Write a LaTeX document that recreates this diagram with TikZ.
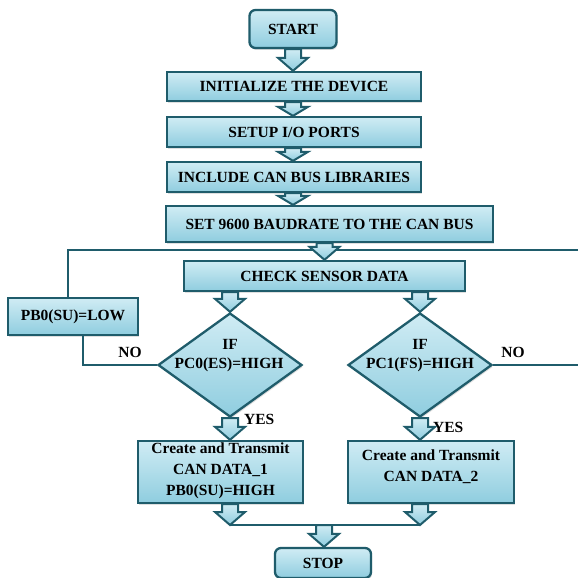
\documentclass[tikz,border=0pt]{standalone}
\usepackage{fontspec}
\setmainfont{Liberation Serif}
\usetikzlibrary{shapes.geometric,calc,shadows}
\definecolor{edgec}{HTML}{1F5C6B}
\definecolor{ftop}{HTML}{D0ECF4}
\definecolor{fbot}{HTML}{8FCDDF}
\tikzset{
  box/.style={draw=edgec, line width=2.3pt, top color=ftop, bottom color=fbot, inner sep=0pt,
    font=\fontsize{15.5}{21}\selectfont\bfseries, align=center,
    drop shadow={shadow xshift=1pt, shadow yshift=-2pt, opacity=0.25, fill=gray}},
  rbox/.style={box, rounded corners=6pt},
  dia/.style={box, shape=diamond},
  lbl/.style={font=\fontsize{15.5}{21}\selectfont\bfseries, inner sep=0pt, align=center},
  conn/.style={draw=edgec, line width=2.3pt},
  barrowst/.style={draw=edgec, line width=2pt, top color=ftop, bottom color=fbot, line join=miter},
}
\newcommand\barrow[3][13pt]{\path[barrowst] let \p1=#2, \p2=#3 in
  (\x1-8pt,\y1) -- (\x1-8pt,\y2+#1) -- (\x1-15pt,\y2+#1) -- (\x1,\y2)
  -- (\x1+15pt,\y2+#1) -- (\x1+8pt,\y2+#1) -- (\x1+8pt,\y1) -- cycle;}
\begin{document}
\begin{tikzpicture}[x=1pt,y=-1pt]
\useasboundingbox[fill=white] (0,0) rectangle (578,578);
% coordinates
\coordinate (join) at (324.5,250);
\coordinate (rt) at (582,365);
\coordinate (m1) at (230,525);
\coordinate (m2) at (420,525);
\coordinate (mc) at (324,525);
% connectors (behind)
\draw[conn] (m1) -- (m2);
% nodes
\node[rbox, minimum width=87, minimum height=38] (start) at (293,29) {START};
\node[box, minimum width=254, minimum height=29] (init) at (294,86.5) {INITIALIZE THE DEVICE};
\node[box, minimum width=254, minimum height=30] (setup) at (294,132) {SETUP I/O PORTS};
\node[box, minimum width=254, minimum height=30] (incl) at (294,177) {INCLUDE CAN BUS LIBRARIES};
\node[box, minimum width=327, minimum height=36] (set) at (329.5,224) {SET 9600 BAUDRATE TO THE CAN BUS};
\node[box, minimum width=281, minimum height=30] (check) at (324.5,276) {CHECK SENSOR DATA};
\node[box, minimum width=130, minimum height=37] (low) at (73,316.5) {PB0(SU)=LOW};
\node[dia, minimum width=144, minimum height=104] (D1) at (230,365) {};
\node[dia, minimum width=144, minimum height=104] (D2) at (420,365) {};
\node[box, minimum width=165, minimum height=62] (b1) at (220.5,472) {};
\node[box, minimum width=166, minimum height=62] (b2) at (431,472) {};
\node[rbox, minimum width=96, minimum height=30] (stop) at (323,563) {STOP};
% loop connectors
\draw[conn] (D1.west) -| ([xshift=10pt]low.south);
\draw[conn] ([xshift=-5pt]low.north) |- (join);
\draw[conn] (D2.east) -- (rt) |- (join);
% texts
\node[lbl] (d1a) at (230,344) {IF};
\node[lbl] (d1b) at (229,365) {PC0(ES)=HIGH};
\node[lbl] (d2a) at (420,344) {IF};
\node[lbl] (d2b) at (420,365) {PC1(FS)=HIGH};
\node[lbl] (b1t) at (220.5,471) {Create and Transmit\\CAN DATA\_1\\PB0(SU)=HIGH};
\node[lbl] (b2t) at (431,467) {Create and Transmit\\CAN DATA\_2};
\node[lbl] (no1) at (130,352) {NO};
\node[lbl] (no2) at (513,352) {NO};
\node[lbl, anchor=west] (yes1) at (244,419) {YES};
\node[lbl, anchor=west] (yes2) at (433,427) {YES};
% block arrows
\barrow{(start.south)}{(start.south |- init.north)}
\barrow[9pt]{(start.south |- init.south)}{(start.south |- setup.north)}
\barrow[9pt]{(start.south |- setup.south)}{(start.south |- incl.north)}
\barrow[9pt]{(start.south |- incl.south)}{(start.south |- set.north)}
\barrow{(check.north |- set.south)}{(check.north)}
\barrow{(D1.north |- check.south)}{(D1.north)}
\barrow{(D2.north |- check.south)}{(D2.north)}
\barrow{(D1.south)}{(D1.south |- b1.north)}
\barrow{(D2.south)}{(D2.south |- b2.north)}
\barrow{(m1 |- b1.south)}{(m1)}
\barrow{(m2 |- b2.south)}{(m2)}
\barrow{(mc)}{(mc |- stop.north)}
\end{tikzpicture}
\end{document}
